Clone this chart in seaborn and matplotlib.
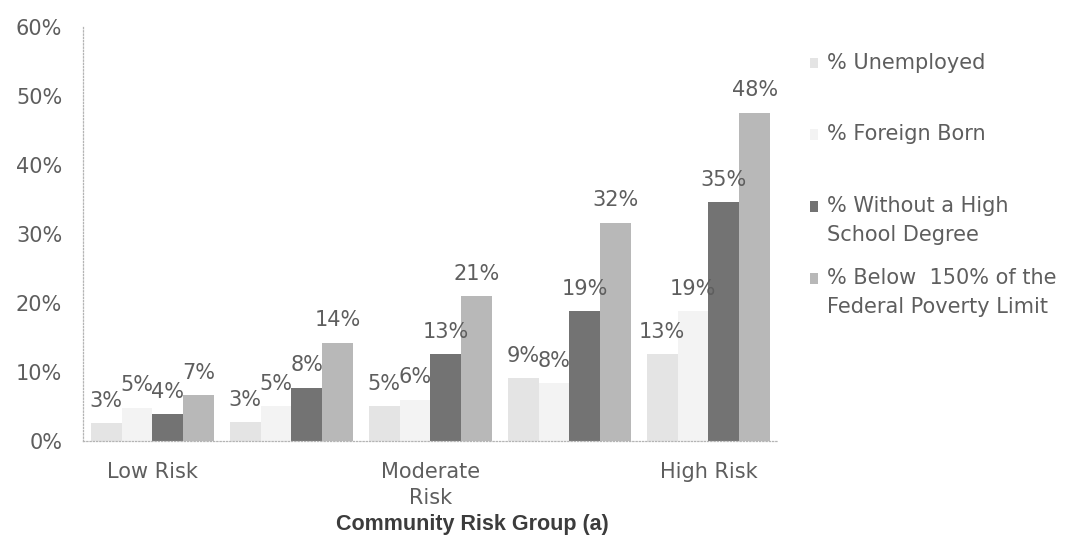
import matplotlib
matplotlib.use("Agg")
import matplotlib.pyplot as plt
import pandas as pd
import seaborn as sns
from matplotlib.patches import Rectangle
from matplotlib.legend_handler import HandlerPatch
from matplotlib.ticker import FuncFormatter, MultipleLocator

# Community risk groups (five ordered groups, three of them named on the axis)
risk_groups = ["G1", "G2", "G3", "G4", "G5"]
group_tick_labels = ["Low Risk", "", "Moderate\nRisk", "", "High Risk"]

measures = [
    "% Unemployed",
    "% Foreign Born",
    "% Without a High\nSchool Degree",
    "% Below  150% of the\nFederal Poverty Limit",
]

# Percent of residents in each group
pct_unemployed = [2.6, 2.7, 5.0, 9.1, 12.6]
pct_foreign_born = [4.8, 5.0, 6.0, 8.4, 18.8]
pct_no_high_school = [3.9, 7.7, 12.6, 18.8, 34.6]
pct_below_poverty = [6.6, 14.2, 21.0, 31.6, 47.6]

bar_colors = ["#e4e4e4", "#f3f3f3", "#737373", "#b8b8b8"]
text_color = "#5e5e5e"

series = [pct_unemployed, pct_foreign_born, pct_no_high_school, pct_below_poverty]
records = []
for measure, values in zip(measures, series):
    for group, value in zip(risk_groups, values):
        records.append({"group": group, "measure": measure, "pct": value})
df = pd.DataFrame(records)

sns.set_theme(style="white")
plt.rcParams["font.family"] = ["DejaVu Sans"]
plt.rcParams["text.color"] = text_color

fig = plt.figure(figsize=(10.68, 5.37), dpi=100)
ax = fig.add_axes([0.0777, 0.1788, 0.6507, 0.771])

sns.barplot(
    data=df, x="group", y="pct", hue="measure",
    order=risk_groups, hue_order=measures,
    palette=bar_colors, width=0.89, gap=0,
    saturation=1, edgecolor="none", linewidth=0,
    legend=False, ax=ax,
)

# value labels above every bar
for container, values in zip(ax.containers, series):
    ax.bar_label(
        container, labels=[f"{v:.0f}%" for v in values],
        padding=9, fontsize=15, color=text_color,
    )

ax.set_ylim(0, 60)
ax.yaxis.set_major_locator(MultipleLocator(10))
ax.yaxis.set_major_formatter(FuncFormatter(lambda v, _: f"{v:.0f}%"))
ax.set_xticks(range(len(risk_groups)))
ax.set_xticklabels(group_tick_labels, linespacing=1.4)
ax.tick_params(axis="both", length=0, labelsize=15, labelcolor=text_color)
ax.tick_params(axis="x", pad=15)
ax.tick_params(axis="y", pad=15)
ax.set_ylabel("")
ax.set_xlabel(
    "Community Risk Group (a)", fontsize=15.5, fontweight="bold",
    family="Liberation Sans", color="#3c3c3c", labelpad=4,
)
ax.xaxis.label.set_x(0.56)

for side in ("top", "right"):
    ax.spines[side].set_visible(False)
for side in ("left", "bottom"):
    ax.spines[side].set_color("#b4b4b4")
    ax.spines[side].set_linewidth(0.9)
    ax.spines[side].set_linestyle((0, (1, 1.6)))


class SquareHandler(HandlerPatch):
    """Small square swatch placed level with the first line of its label."""

    def __init__(self, lift=0.0):
        super().__init__()
        self.lift = lift

    def create_artists(self, legend, orig_handle, xdescent, ydescent,
                       width, height, fontsize, trans):
        patch = Rectangle(
            (-xdescent, -ydescent + self.lift * fontsize), width, height,
            facecolor=orig_handle.get_facecolor(), edgecolor="none",
            transform=trans,
        )
        return [patch]


# every legend entry takes two text lines so that entries sit at an even pitch
legend_labels = [m if "\n" in m else m + "\n " for m in measures]
handles = [Rectangle((0, 0), 1, 1, facecolor=c, edgecolor="none") for c in bar_colors]
handler_map = {h: SquareHandler(lift=0.7) for h in handles}
leg = fig.legend(
    handles, legend_labels, loc="upper left", bbox_to_anchor=(0.758, 0.902),
    frameon=False, fontsize=15, handlelength=0.42, handleheight=0.42,
    handletextpad=0.4, labelspacing=1.1, borderpad=0, borderaxespad=0,
    handler_map=handler_map,
)
for t in leg.get_texts():
    t.set_linespacing(1.55)
    t.set_color(text_color)

fig.savefig("out.png", dpi=100)
